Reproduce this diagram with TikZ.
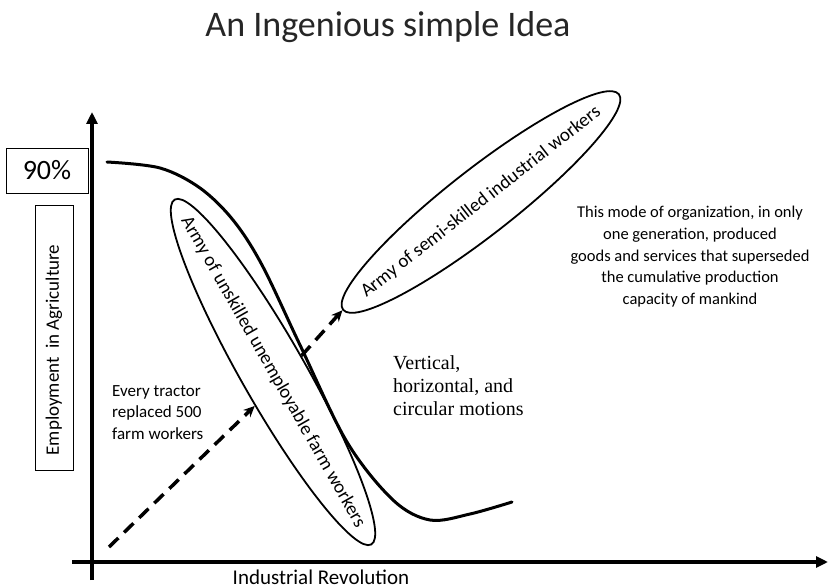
\documentclass[tikz,border=0pt]{standalone}
\usepackage{fontspec}
\setmainfont{Carlito}
\newfontfamily\motionfont{Liberation Serif}
\usetikzlibrary{shapes.geometric, arrows.meta}
\tikzstyle{axis} = [line width=3.2pt, -{Triangle[length=12pt,width=11pt]}]
\tikzstyle{curveline} = [line width=3pt, line cap=round]
\tikzstyle{army} = [ellipse, draw, line width=1.8pt, inner sep=0pt]
\tikzstyle{armytext} = [font=\fontsize{19}{22}\selectfont, inner sep=0pt]
\tikzstyle{labelbox} = [rectangle, draw, line width=0.9pt, inner sep=0pt, text centered]
\tikzstyle{note} = [font=\fontsize{17}{21.5}\selectfont, inner sep=0pt]
\tikzstyle{dasharrow} = [line width=3.5pt, dash pattern=on 13pt off 8pt, -{Stealth[length=11pt,width=10pt]}]

\begin{document}
\begin{tikzpicture}[x=1pt, y=-1pt]
    \useasboundingbox (0,0) rectangle (833,588);
    \node [font=\fontsize{36}{42}\selectfont, text=black!85, anchor=base] at (388,37) (title) {An Ingenious simple Idea};
    % axes
    \coordinate (ybot) at (92,580);
    \coordinate (ytop) at (92,112);
    \coordinate (xleft) at (72,562);
    \coordinate (xright) at (828,562);
    \draw [axis] (ybot) -- (ytop);
    \draw [axis] (xleft) -- (xright);
    \node [labelbox, minimum width=82pt, minimum height=45pt, font=\fontsize{28}{32}\selectfont] at (47,170.5) (topvalue) {90\%};
    \node [labelbox, minimum width=38pt, minimum height=265pt] at (54,337.5) (ylabelbox) {};
    \node [rotate=90, inner sep=0pt, font=\fontsize{19}{22}\selectfont] at (54,350) (ylabel) {Employment\ \ in Agriculture};
    \node [font=\fontsize{21}{24}\selectfont, inner sep=0pt, anchor=base] at (321,584) (xlabel) {Industrial Revolution};
    % employment curve
    \draw [curveline] plot [smooth, tension=0.55] coordinates {(107,162) (160,168) (200,188) (233,220) (262,265) (300,345) (347,442) (393,500) (430,520) (470,514) (512,502)};
    % the two armies
    \node [army, minimum width=397pt, minimum height=64pt, rotate=-60.3] at (273,372) (unskilled) {};
    \node [armytext, rotate=-60.3] at (unskilled.center) (unskilledtext) {Army of unskilled unemployable farm workers};
    \node [army, minimum width=350pt, minimum height=66pt, rotate=38] at (481,202) (semiskilled) {};
    \node [armytext, rotate=38] at (semiskilled.center) (semiskilledtext) {Army of semi-skilled industrial workers};
    \coordinate (tractor) at (109,547);
    \draw [dasharrow] (tractor) -- (unskilled.-58);
    \draw [dasharrow] (unskilled.90) -- (semiskilled.west);
    % notes
    \node [note, align=left, anchor=north west] at (112,385) (tractornote) {Every tractor\\replaced 500\\farm workers};
    \node [note, align=left, anchor=north west, font=\motionfont\fontsize{20}{23}\selectfont] at (393,355) (motionnote) {Vertical,\\horizontal, and\\circular motions};
    \node [note, align=center, anchor=north, font=\fontsize{16.5}{21.7}\selectfont] at (690,206) (modenote) {This mode of organization, in only\\one generation, produced\\goods and services that superseded\\the cumulative production\\capacity of mankind};
\end{tikzpicture}
\end{document}
